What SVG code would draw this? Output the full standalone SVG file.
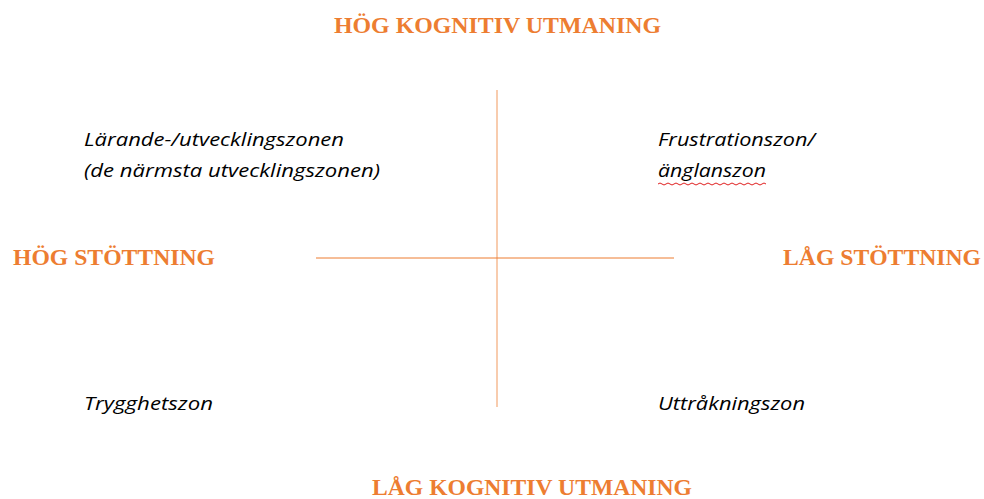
<svg xmlns="http://www.w3.org/2000/svg" width="984" height="499" viewBox="0 0 984 499">
<style>
.axis{font-family:"Liberation Serif","Times New Roman",serif;font-weight:bold;font-size:24px;fill:#ED7D31}
.zone{font-family:"Open Sans","Liberation Sans",sans-serif;font-style:italic;font-size:19px;fill:#000}
</style>
<rect width="984" height="499" fill="#fff"/>
<g id="connectors">
<line x1="497" y1="90" x2="497" y2="407" stroke="#F4B183" stroke-width="1.3"/>
<line x1="316" y1="258" x2="674" y2="258" stroke="#ED7D31" stroke-width="1"/>
</g>
<g id="top"><text class="axis" x="334" y="33" textLength="327" lengthAdjust="spacingAndGlyphs">HÖG KOGNITIV UTMANING</text></g>
<g id="bottom"><text class="axis" x="372" y="495" textLength="320" lengthAdjust="spacingAndGlyphs">LÅG KOGNITIV UTMANING</text></g>
<g id="left"><text class="axis" x="13" y="265" textLength="202" lengthAdjust="spacingAndGlyphs">HÖG STÖTTNING</text></g>
<g id="right"><text class="axis" x="783" y="265" textLength="198" lengthAdjust="spacingAndGlyphs">LÅG STÖTTNING</text></g>
<g id="zone-learning">
<text class="zone" x="84" y="146" textLength="260" lengthAdjust="spacingAndGlyphs">Lärande-/utvecklingszonen</text>
<text class="zone" x="84" y="177" textLength="296" lengthAdjust="spacingAndGlyphs">(de närmsta utvecklingszonen)</text>
</g>
<g id="zone-frustration">
<text class="zone" x="658" y="146" textLength="157" lengthAdjust="spacingAndGlyphs">Frustrationszon/</text>
<text class="zone" x="658" y="177" textLength="108" lengthAdjust="spacingAndGlyphs">änglanszon</text>
<path d="M658,184 q2,-2 4,0 t4,0 t4,0 t4,0 t4,0 t4,0 t4,0 t4,0 t4,0 t4,0 t4,0 t4,0 t4,0 t4,0 t4,0 t4,0 t4,0 t4,0 t4,0 t4,0 t4,0 t4,0 t4,0 t4,0 t4,0 t4,0 t4,0" fill="none" stroke="#E02020" stroke-width="1"/>
</g>
<g id="zone-safety"><text class="zone" x="84" y="410" textLength="129" lengthAdjust="spacingAndGlyphs">Trygghetszon</text></g>
<g id="zone-boredom"><text class="zone" x="658" y="410" textLength="147" lengthAdjust="spacingAndGlyphs">Uttråkningszon</text></g>
</svg>
